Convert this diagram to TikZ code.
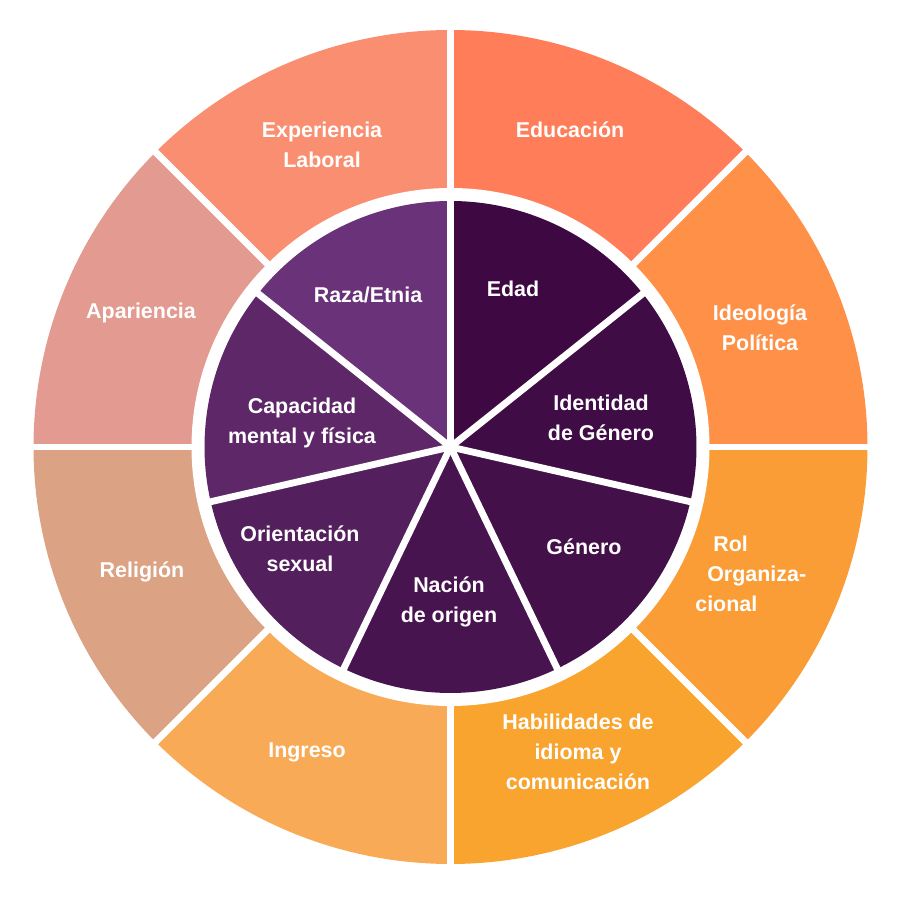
\documentclass[tikz,border=0pt]{standalone}
\usepackage{fontspec}
\setmainfont{Liberation Sans}

\definecolor{educ}{HTML}{FF7E59}
\definecolor{ideo}{HTML}{FE9147}
\definecolor{rol}{HTML}{FA9D37}
\definecolor{habil}{HTML}{F9A42F}
\definecolor{ingr}{HTML}{F8AA56}
\definecolor{relig}{HTML}{DBA283}
\definecolor{apar}{HTML}{E39A90}
\definecolor{exper}{HTML}{F98E71}
\definecolor{edad}{HTML}{3E0942}
\definecolor{ident}{HTML}{3F0C45}
\definecolor{gen}{HTML}{43104A}
\definecolor{nac}{HTML}{48144F}
\definecolor{orient}{HTML}{531F5C}
\definecolor{capac}{HTML}{5E2868}
\definecolor{raza}{HTML}{6A3278}

\begin{document}
\begin{tikzpicture}[
  x=0.02cm, y=0.02cm,
  lbl/.style={text=white, align=center, inner sep=0pt, font=\fontsize{12.2}{17}\selectfont\bfseries},
  gap/.style={draw=white, line width=3.9pt}
]
\useasboundingbox (0,0) rectangle (900,900);
\coordinate (c) at (450.5,453);

% outer ring
\foreach \a/\col in {45/educ, 0/ideo, -45/rol, -90/habil, -135/ingr, 180/relig, 135/apar, 90/exper}
  \fill[\col] (c) -- ++(\a:417) arc[start angle=\a, delta angle=45, radius=417] -- cycle;
\foreach \a in {0,45,...,315}
  \draw[gap] (c) -- ++(\a:425);
\fill[white] (c) circle[radius=259];

% inner pie
\foreach \i/\col in {1/edad, 2/ident, 3/gen, 4/nac, 5/orient, 6/capac, 7/raza}
  \fill[\col] (c) -- ++({90-360/7*\i}:246) arc[start angle={90-360/7*\i}, delta angle={360/7}, radius=246] -- cycle;
\foreach \i in {0,...,6}
  \draw[gap] (c) -- ++({90-360/7*\i}:250);

% outer labels
\node[lbl] (educacion) at (570,770) {Educación};
\node[lbl] (ideologia) at (760,572) {Ideología\\Política};
\node[lbl, align=left, anchor=west] (rolorg) at (695,326) {\hspace*{10.2pt}Rol\\\hspace*{6.8pt}Organiza-\\cional};
\node[lbl] (habilidades) at (578,148) {Habilidades de\\idioma y\\comunicación};
\node[lbl] (ingreso) at (307,148) {Ingreso};
\node[lbl] (religion) at (142,328) {Religión};
\node[lbl] (apariencia) at (141,587) {Apariencia};
\node[lbl] (experiencia) at (322,755) {Experiencia\\Laboral};

% inner labels
\node[lbl] (edadlbl) at (513,611) {Edad};
\node[lbl] (identidad) at (601,482) {Identidad\\de Género};
\node[lbl] (genero) at (584,353) {Género};
\node[lbl] (nacion) at (449,298) {Nación\\de origen};
\node[lbl] (orientacion) at (300,351) {Orientación\\sexual};
\node[lbl] (capacidad) at (302,477) {Capacidad\\mental y física};
\node[lbl] (razaetnia) at (368,605) {Raza/Etnia};
\end{tikzpicture}
\end{document}
